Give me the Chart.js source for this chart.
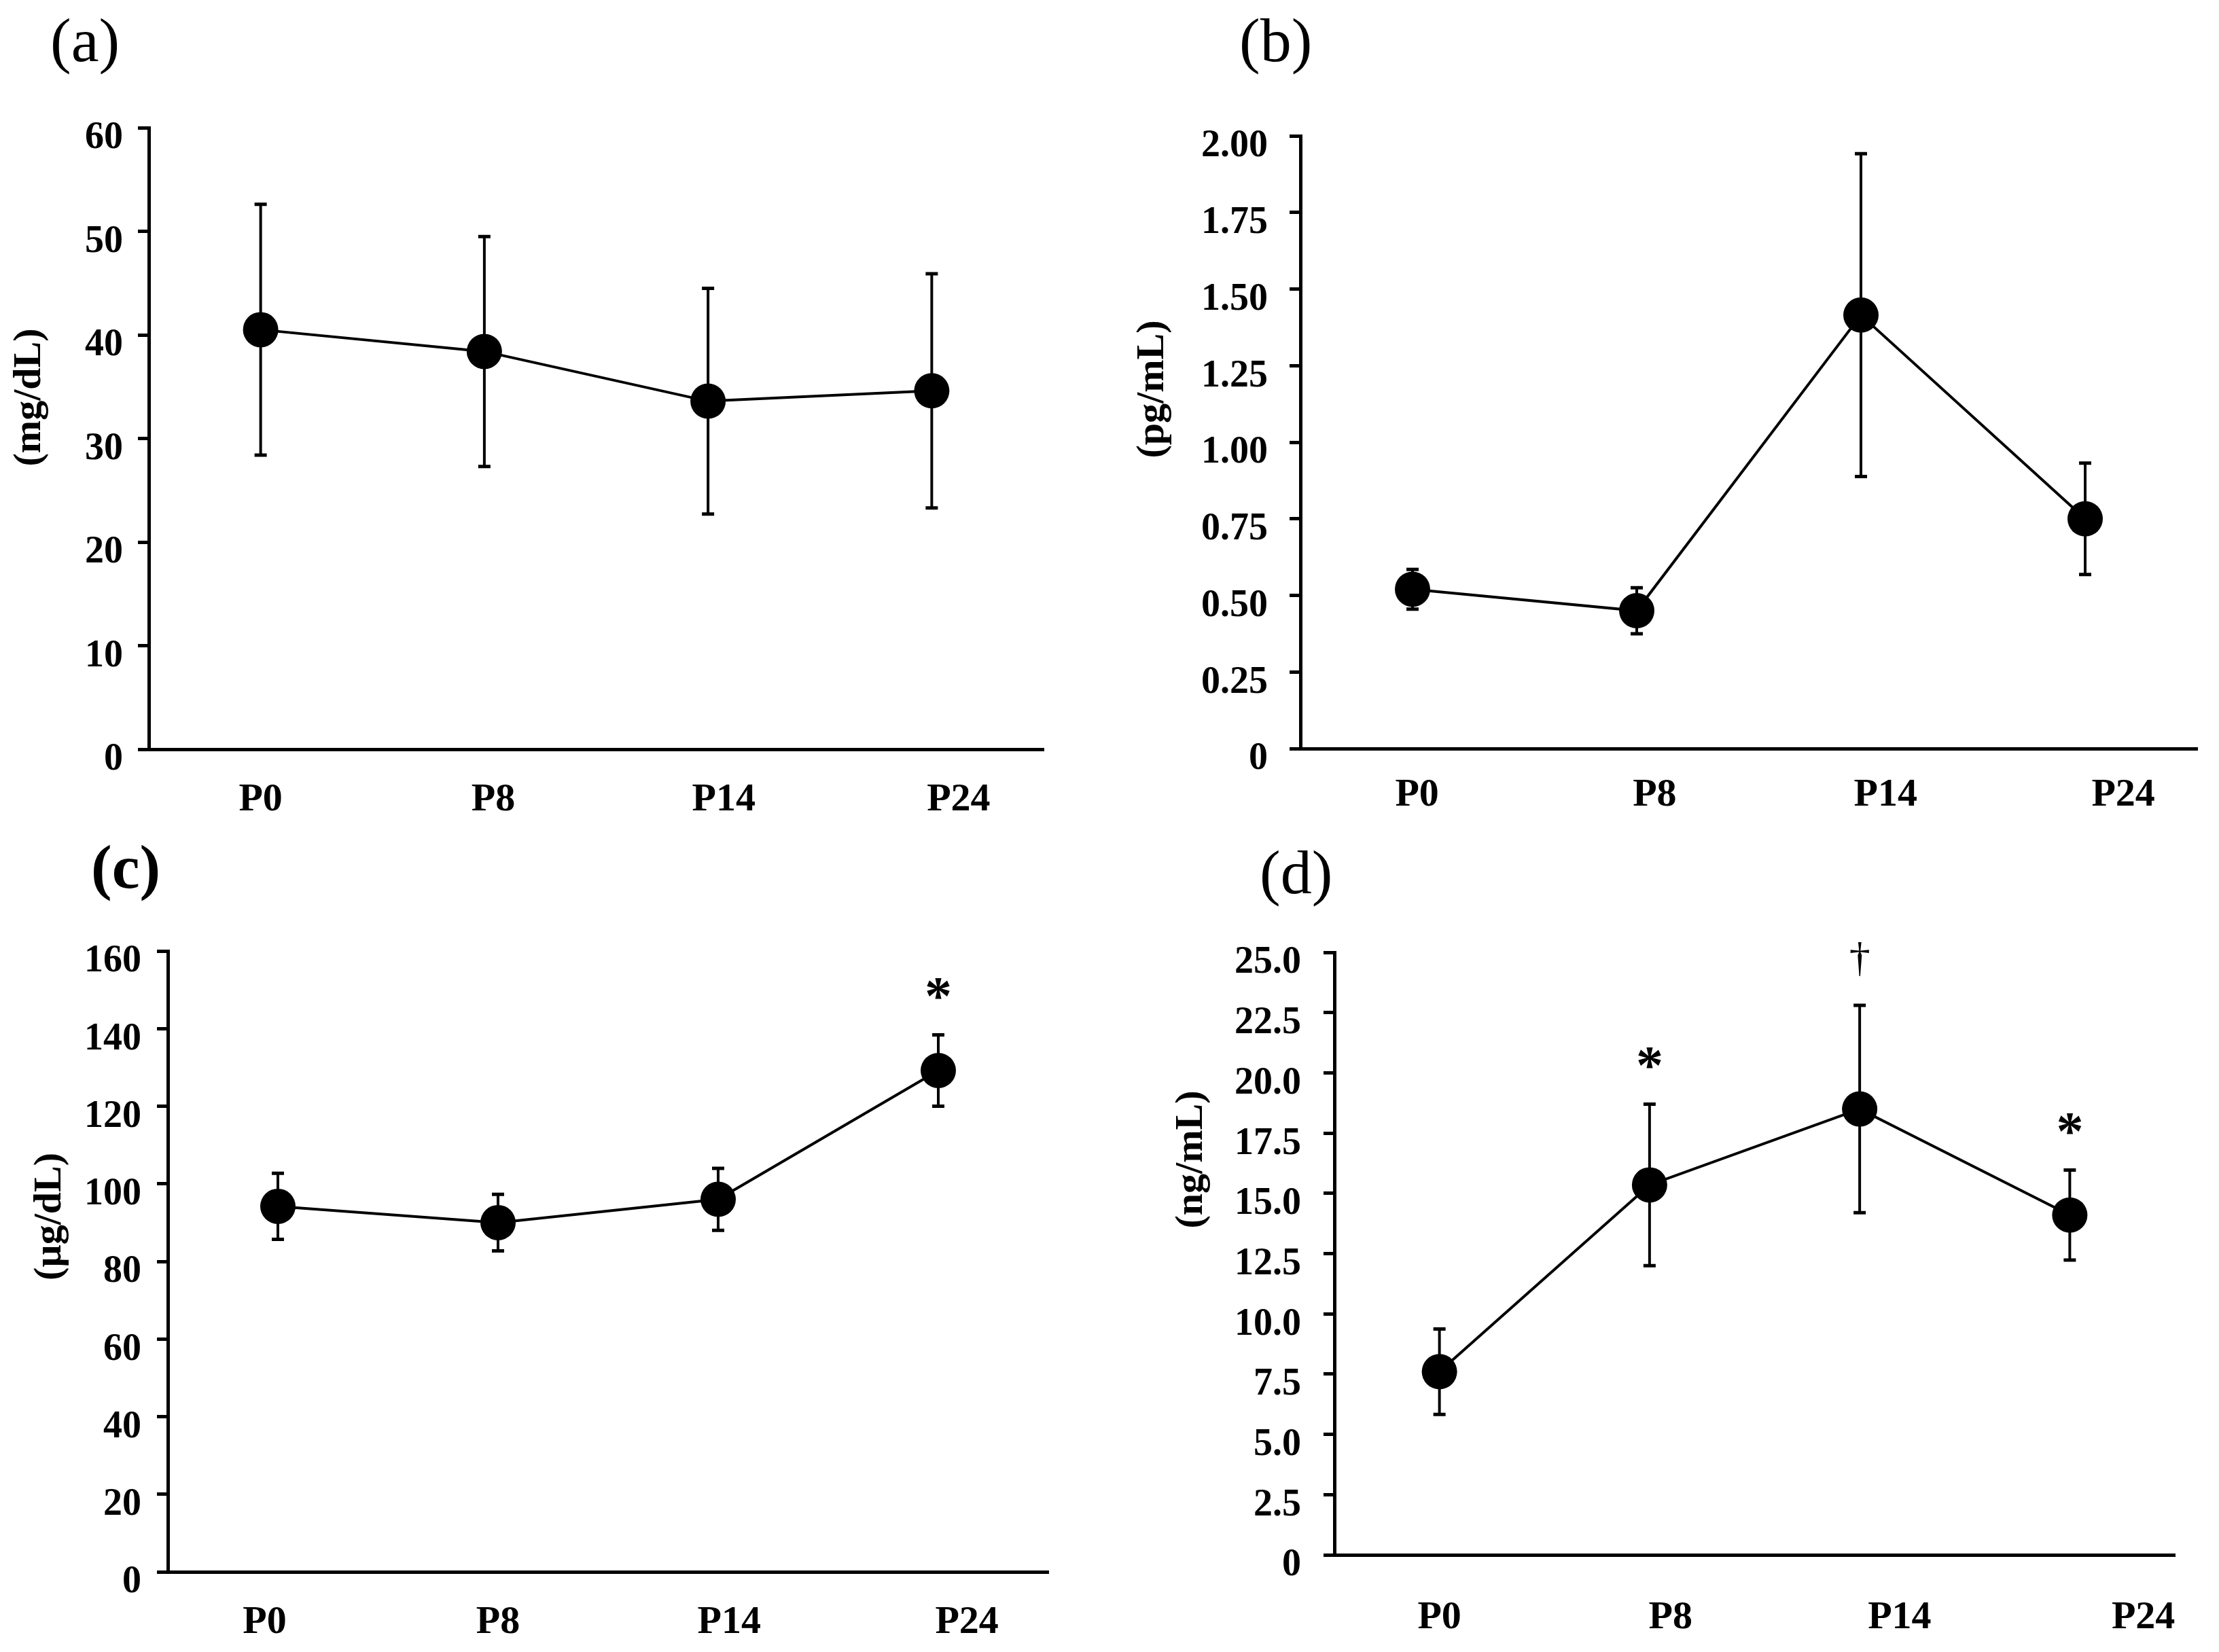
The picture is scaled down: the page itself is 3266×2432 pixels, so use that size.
<!DOCTYPE html>
<html>
<head>
<meta charset="utf-8">
<title>P0-P24</title>
<script src="https://cdn.jsdelivr.net/npm/chart.js@4.4.1/dist/chart.umd.min.js"></script>
<style>
  body { margin: 0; background: #fff; }
  #page { position: relative; width: 3266px; height: 2432px; background: #fff; overflow: hidden; }
  canvas { position: absolute; }
  .tag { position: absolute; font-family: "Liberation Serif", "Times New Roman", serif; font-size: 92px; line-height: 1; color: #000; }
  .unit { position: absolute; font-family: "Liberation Serif", "Times New Roman", serif; font-weight: bold; font-size: 58px;
          line-height: 1; white-space: nowrap; color: #000; transform: translate(-50%, -50%) rotate(-90deg); }
</style>
</head>
<body>
<div id="page">
  <div class="tag" style="left:74px;top:13px">(a)</div>
  <div class="tag" style="left:1824px;top:13px">(b)</div>
  <div class="tag" style="left:134px;top:1230px;font-weight:bold">(c)</div>
  <div class="tag" style="left:1854px;top:1238px">(d)</div>

  <div class="unit" style="left:40px;top:585px">(mg/dL)</div>
  <div class="unit" style="left:1693px;top:573px">(pg/mL)</div>
  <div class="unit" style="left:70px;top:1791px">(µg/dL)</div>
  <div class="unit" style="left:1750px;top:1707px">(ng/mL)</div>

  <canvas id="chartA" width="1633" height="1130" style="left:0;top:100px"></canvas>
  <canvas id="chartB" width="1633" height="1130" style="left:1633px;top:100px"></canvas>
  <canvas id="chartC" width="1633" height="1102" style="left:0;top:1330px"></canvas>
  <canvas id="chartD" width="1633" height="1102" style="left:1633px;top:1330px"></canvas>
</div>
<script>
// time points
const categories = ['P0', 'P8', 'P14', 'P24'];

// (a) mg/dL
const aMean = [40.5, 38.4, 33.6, 34.6];
const aErr = [12.1, 11.1, 10.9, 11.3];
// (b) pg/mL
const bMean = [0.52, 0.45, 1.415, 0.75];
const bErr = [0.065, 0.075, 0.527, 0.182];
// (c) µg/dL
const cMean = [94.2, 90.0, 96.0, 129.2];
const cErr = [8.5, 7.3, 8.0, 9.2];
const cMarks = ['', '', '', '*'];
// (d) ng/mL
const dMean = [7.6, 15.35, 18.5, 14.1];
const dErr = [1.77, 3.35, 4.3, 1.87];
const dMarks = ['', '*', '†', '*'];

const serif = '"Liberation Serif", "Times New Roman", serif';

// error bars under the points, significance marks above the bars
const errorBars = {
  id: 'errorBars',
  beforeDatasetsDraw(chart) {
    const { ctx, scales: { x, y } } = chart;
    chart.data.datasets.forEach(ds => {
      ds.data.forEach((p, i) => {
        const px = x.getPixelForValue(p.x);
        const top = y.getPixelForValue(p.y + ds.errors[i]);
        const bot = y.getPixelForValue(p.y - ds.errors[i]);
        ctx.save();
        ctx.strokeStyle = '#000';
        ctx.lineWidth = 4;
        ctx.beginPath();
        ctx.moveTo(px, top);
        ctx.lineTo(px, bot);
        ctx.stroke();
        ctx.lineWidth = 5;
        ctx.beginPath();
        ctx.moveTo(px - 9, top); ctx.lineTo(px + 9, top);
        ctx.moveTo(px - 9, bot); ctx.lineTo(px + 9, bot);
        ctx.stroke();
        ctx.restore();
      });
    });
  },
  afterDatasetsDraw(chart) {
    const { ctx, scales: { x, y } } = chart;
    chart.data.datasets.forEach(ds => {
      if (!ds.marks) return;
      ds.data.forEach((p, i) => {
        const m = ds.marks[i];
        if (!m) return;
        ctx.save();
        ctx.fillStyle = '#000';
        ctx.textAlign = 'center';
        ctx.textBaseline = 'alphabetic';
        ctx.font = m === '*' ? 'bold 80px ' + serif : '62px ' + serif;
        const tm = ctx.measureText(m);
        const center = y.getPixelForValue(p.y + ds.errors[i]) - 68;
        const base = center + (tm.actualBoundingBoxAscent - tm.actualBoundingBoxDescent) / 2;
        ctx.fillText(m, x.getPixelForValue(p.x), base);
        ctx.restore();
      });
    });
  }
};
Chart.register(errorBars);

function panel(id, mean, err, marks, cfg) {
  const canvas = document.getElementById(id);
  return new Chart(canvas, {
    type: 'line',
    data: {
      datasets: [{
        data: mean.map((v, i) => ({ x: i, y: v })),
        errors: err,
        marks: marks,
        borderColor: '#000',
        borderWidth: 4,
        pointRadius: 26,
        pointHoverRadius: 26,
        pointBackgroundColor: '#000',
        pointBorderWidth: 0,
        tension: 0,
        clip: false
      }]
    },
    options: {
      responsive: false,
      devicePixelRatio: 1,
      animation: false,
      events: [],
      layout: { autoPadding: false, padding: { top: cfg.top, right: canvas.width - cfg.right, left: 0, bottom: 0 } },
      plugins: { legend: { display: false }, tooltip: { enabled: false } },
      scales: {
        x: {
          type: 'linear', min: -0.5, max: 3.5, bounds: 'data',
          grid: { display: false, drawTicks: false },
          border: { display: true, color: '#000', width: 5 },
          ticks: {
            autoSkip: false, maxRotation: 0, padding: cfg.xPad, color: '#000',
            font: { family: serif, size: 58, weight: 'bold' },
            callback: (v, i) => categories[i]
          },
          afterBuildTicks: s => { s.ticks = cfg.slots.map(v => ({ value: v })); },
          afterFit: s => { s.height = canvas.height - cfg.bottom; }
        },
        y: {
          min: 0, max: cfg.max,
          grid: { drawOnChartArea: false, drawTicks: true, tickLength: 16, tickWidth: 5, tickColor: '#000' },
          border: { display: true, color: '#000', width: 5 },
          ticks: {
            stepSize: cfg.step, padding: cfg.yPad, labelOffset: 16, color: '#000',
            font: { family: serif, size: 56, weight: 'bold' },
            callback: cfg.fmt
          },
          afterFit: s => { s.width = cfg.left; }
        }
      }
    }
  });
}

panel('chartA', aMean, aErr, null, {
  left: 219, right: 1536, top: 88, bottom: 1003, max: 60, step: 10, yPad: 22, xPad: 40,
  slots: [0, 1.04, 2.07, 3.12], fmt: v => v
});
panel('chartB', bMean, bErr, null, {
  left: 281, right: 1601, top: 100, bottom: 1002, max: 2, step: 0.25, yPad: 32, xPad: 34,
  slots: [0.02, 1.08, 2.11, 3.17], fmt: v => v === 0 ? '0' : v.toFixed(2)
});
panel('chartC', cMean, cErr, cMarks, {
  left: 247, right: 1543, top: 70, bottom: 984, max: 160, step: 20, yPad: 23, xPad: 40,
  slots: [-0.06, 1.0, 2.05, 3.13], fmt: v => v
});
panel('chartD', dMean, dErr, dMarks, {
  left: 331, right: 1568, top: 72, bottom: 959, max: 25, step: 2.5, yPad: 33, xPad: 58,
  slots: [0, 1.1, 2.19, 3.35], fmt: v => v === 0 ? '0' : v.toFixed(1)
});
</script>
</body>
</html>
